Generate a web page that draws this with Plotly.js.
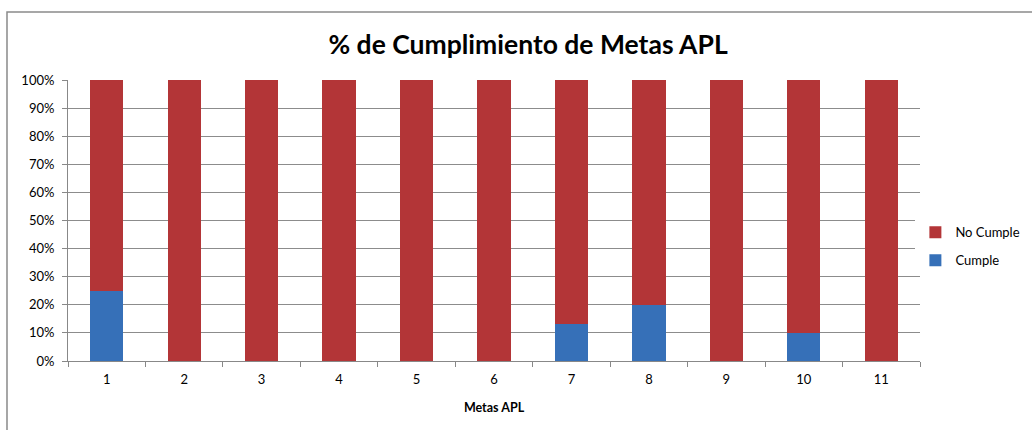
<!DOCTYPE html>
<html>
<head>
<meta charset="utf-8">
<script src="https://cdn.plot.ly/plotly-3.0.1.min.js"></script>
<style>html,body{margin:0;padding:0;background:#fff;}#chart{width:1032px;height:430px;}</style>
</head>
<body>
<div id="chart"></div>
<script>
const categories = ["1","2","3","4","5","6","7","8","9","10","11"];
const cumple = [25, 0, 0, 0, 0, 0, 13, 20, 0, 10, 0];
const noCumple = [75, 100, 100, 100, 100, 100, 87, 80, 100, 90, 100];
const yTickVals = [0,10,20,30,40,50,60,70,80,90,100];
const yTickText = ["0%","10%","20%","30%","40%","50%","60%","70%","80%","90%","100%"];

const font = "Lato, 'Open Sans', sans-serif";
const traces = [
  {type:"bar", name:"Cumple", legendgroup:"c", legendrank:2, x:categories, y:cumple,
   marker:{color:"#3670b8", line:{width:0}}, width:0.43},
  {type:"bar", name:"No Cumple", legendgroup:"n", legendrank:1, x:categories, y:noCumple,
   marker:{color:"#b33537", line:{width:0}}, width:0.43}
];
const layout = {
  width:1032, height:430,
  margin:{l:68, r:112, t:80, b:69, autoexpand:false},
  paper_bgcolor:"#fff", plot_bgcolor:"#fff",
  barmode:"stack",
  showlegend:true,
  title:{text:"<b>% de Cumplimiento de Metas APL</b>", x:0.54, xref:"paper", xanchor:"center", y:0.895, yanchor:"middle",
         font:{family:font, size:26.5, color:"#000"}},
  xaxis:{type:"category", tickson:"boundaries", ticks:"outside", ticklen:5, tickcolor:"#888",
         showline:true, linecolor:"#888", linewidth:1, showgrid:false, ticklabelstandoff:6,
         tickfont:{family:font, size:13, color:"#000"}, automargin:false,
         title:{text:"<b>Metas APL</b>", font:{family:font, size:12.5, color:"#000"}, standoff:17}},
  yaxis:{range:[0,100], tickvals:yTickVals, ticktext:yTickText, ticks:"outside", ticklen:5, tickcolor:"#888",
         showline:true, linecolor:"#888", linewidth:1, showgrid:true, gridcolor:"#8c8c8c", gridwidth:1,
         ticklabelstandoff:5, automargin:false,
         tickfont:{family:font, size:13, color:"#000"}, zeroline:false},
  legend:{xref:"container", x:0.887, xanchor:"left", y:0.408, yanchor:"middle", traceorder:"grouped",
          font:{family:font, size:13, color:"#000"}, itemwidth:30, tracegroupgap:8},
  shapes:[
    {type:"rect", xref:"paper", yref:"paper", x0:-0.0716, x1:1.2, y0:-0.5, y1:1.242,
     line:{color:"#8a8a8a", width:1.5}, fillcolor:"rgba(0,0,0,0)", layer:"below"}
  ]
};
Plotly.newPlot("chart", traces, layout, {displayModeBar:false, staticPlot:true});
</script>
</body>
</html>
